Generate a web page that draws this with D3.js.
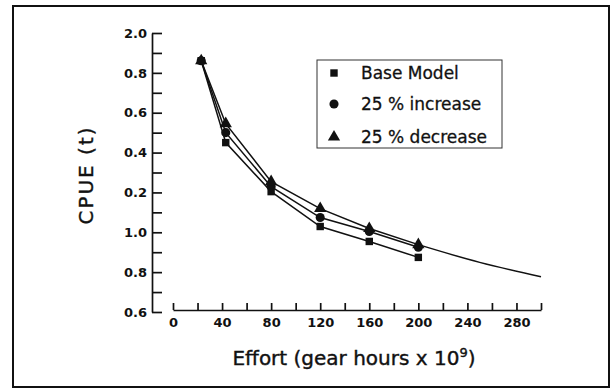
<!DOCTYPE html>
<html>
<head>
<meta charset="utf-8">
<script src="https://cdn.jsdelivr.net/npm/d3@7"></script>
<style>
  html, body { margin: 0; padding: 0; background: #fff; }
  svg { display: block; }
  text { font-family: "DejaVu Sans", sans-serif; fill: #111; }
</style>
</head>
<body>
<svg id="chart" width="610" height="389"></svg>
<script>
// effort values (gear hours x 10^9)
const effort = [23, 43, 80, 120, 160, 200];
// CPUE (t) per scenario
const baseModel = [1.861, 1.450, 1.204, 1.029, 0.954, 0.874];
const increase25 = [1.861, 1.500, 1.229, 1.074, 1.004, 0.925];
const decrease25 = [1.861, 1.545, 1.254, 1.119, 1.019, 0.938];
// extrapolated curve beyond the last point
const extEffort = [200, 250, 300];
const extCpue = [0.938, 0.849, 0.777];

const xTicks = [0, 20, 40, 60, 80, 100, 120, 140, 160, 180, 200, 220, 240, 260, 280, 300];
const xTickLabels = ["0", "", "40", "", "80", "", "120", "", "160", "", "200", "", "240", "", "280", ""];
const yTicks = [0.6, 0.7, 0.8, 0.9, 1.0, 1.1, 1.2, 1.3, 1.4, 1.5, 1.6, 1.7, 1.8, 1.9, 2.0];
// tick labels as printed on the original figure
const yTickLabels = ["0.6", "", "0.8", "", "1.0", "", "0.2", "", "0.4", "", "0.6", "", "0.8", "", "2.0"];

const legendNames = ["Base Model", "25 % increase", "25 % decrease"];

const svg = d3.select("#chart");

// outer frame
svg.append("rect")
  .attr("x", 13).attr("y", 6)
  .attr("width", 596).attr("height", 381)
  .attr("fill", "none").attr("stroke", "#111").attr("stroke-width", 2);

const x = d3.scaleLinear().domain([0, 300]).range([173, 541]);
const y = d3.scaleLinear().domain([0.6, 2.0]).range([312, 33]);

// x axis: ticks point up, labels below
const xAxis = d3.axisBottom(x)
  .tickValues(xTicks)
  .tickFormat((d, i) => xTickLabels[i])
  .tickSize(-7).tickSizeOuter(0).tickPadding(8);
const gx = svg.append("g").attr("transform", "translate(0, 310)").call(xAxis);

// y axis: ticks point right
const yAxis = d3.axisLeft(y)
  .tickValues(yTicks)
  .tickFormat((d, i) => yTickLabels[i])
  .tickSize(-10).tickSizeOuter(0).tickPadding(5);
const gy = svg.append("g").attr("transform", "translate(152, 0)").call(yAxis);

[gx, gy].forEach(g => {
  g.selectAll("path, line").attr("stroke", "#111").attr("stroke-width", 1.7);
  g.selectAll("text")
    .attr("font-size", "13px").attr("font-weight", "bold")
    .attr("font-family", "DejaVu Sans, sans-serif").attr("fill", "#111");
});

// axis titles
svg.append("text")
  .attr("transform", "translate(93, 175) rotate(-90)")
  .attr("text-anchor", "middle")
  .attr("font-size", "20px")
  .attr("letter-spacing", "2px")
  .attr("stroke", "#111").attr("stroke-width", 0.4)
  .text("CPUE (t)");

const xt = svg.append("text")
  .attr("x", 354).attr("y", 365)
  .attr("text-anchor", "middle")
  .attr("font-size", "20px")
  .attr("stroke", "#111").attr("stroke-width", 0.4);
xt.append("tspan").text("Effort (gear hours x 10");
xt.append("tspan").attr("dy", -8).attr("font-size", "13px").text("9");
xt.append("tspan").attr("dy", 8).text(")");

// series lines
const line = d3.line().x(d => x(d[0])).y(d => y(d[1]));
const series = [
  { vals: baseModel, sym: d3.symbolSquare, size: 55 },
  { vals: increase25, sym: d3.symbolCircle, size: 65 },
  { vals: decrease25, sym: d3.symbolTriangle, size: 65 }
];

series.forEach(s => {
  const pts = effort.map((e, i) => [e, s.vals[i]]);
  svg.append("path").datum(pts)
    .attr("d", line)
    .attr("fill", "none").attr("stroke", "#111").attr("stroke-width", 1.5);
});

svg.append("path")
  .datum(extEffort.map((e, i) => [e, extCpue[i]]))
  .attr("d", d3.line().x(d => x(d[0])).y(d => y(d[1])).curve(d3.curveMonotoneX))
  .attr("fill", "none").attr("stroke", "#111").attr("stroke-width", 1.5);

series.forEach(s => {
  svg.append("g").selectAll("path")
    .data(effort.map((e, i) => [e, s.vals[i]]))
    .join("path")
    .attr("transform", d => `translate(${x(d[0])}, ${y(d[1])})`)
    .attr("d", d3.symbol().type(s.sym).size(s.size))
    .attr("fill", "#111");
});

// legend
const lg = svg.append("g");
lg.append("rect")
  .attr("x", 317).attr("y", 60)
  .attr("width", 185).attr("height", 88)
  .attr("fill", "#fff").attr("stroke", "#333").attr("stroke-width", 1);
const rowY = [73, 104, 137];
series.forEach((s, i) => {
  lg.append("path")
    .attr("transform", `translate(334, ${rowY[i]})`)
    .attr("d", d3.symbol().type(s.sym).size(s.size))
    .attr("fill", "#111");
  lg.append("text")
    .attr("x", 361).attr("y", rowY[i])
    .attr("dy", "0.36em")
    .attr("font-size", "17px")
    .attr("stroke", "#111").attr("stroke-width", 0.3)
    .text(legendNames[i]);
});
</script>
</body>
</html>
